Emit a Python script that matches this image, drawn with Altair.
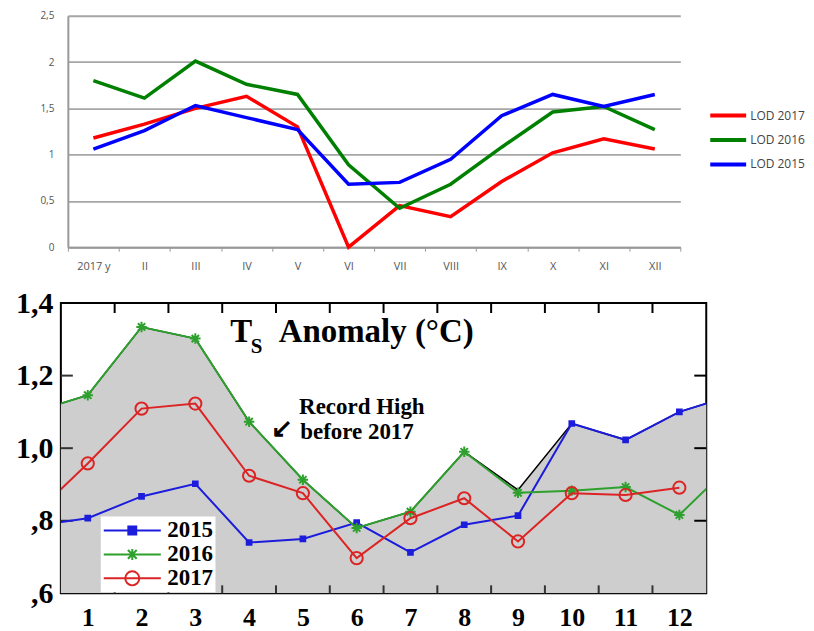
import altair as alt
import pandas as pd

# ---------------- Top chart: LOD ----------------
lod_months = ["2017 y", "II", "III", "IV", "V", "VI", "VII", "VIII", "IX", "X", "XI", "XII"]
lod_2017 = [1.18, 1.33, 1.50, 1.63, 1.30, 0.00, 0.45, 0.33, 0.71, 1.02, 1.17, 1.06]
lod_2016 = [1.80, 1.61, 2.01, 1.76, 1.65, 0.89, 0.42, 0.68, 1.08, 1.46, 1.52, 1.27]
lod_2015 = [1.06, 1.26, 1.53, 1.40, 1.27, 0.68, 0.70, 0.95, 1.42, 1.65, 1.52, 1.65]
lod_series = ["LOD 2017", "LOD 2016", "LOD 2015"]
lod_colors = ["#ff0000", "#008000", "#0000ff"]
lod_ticks = [0, 0.5, 1, 1.5, 2, 2.5]

# ---------------- Bottom chart: Ts anomaly ----------------
ts_x = [0, 1, 2, 3, 4, 5, 6, 7, 8, 9, 10, 11, 12, 13]
ts_2015 = [0.785, 0.807, 0.867, 0.902, 0.740, 0.750, 0.795, 0.713, 0.789, 0.814, 1.068, 1.023, 1.100, 1.146]
ts_2016 = [1.100, 1.146, 1.334, 1.302, 1.073, 0.913, 0.780, 0.825, 0.990, 0.877, 0.883, 0.893, 0.816, 0.960]
ts_2017 = [0.816, 0.958, 1.109, 1.123, 0.924, 0.876, 0.697, 0.807, 0.862, 0.743, 0.876, 0.871, 0.891, None]
ts_record = [1.100, 1.146, 1.334, 1.302, 1.073, 0.913, 0.780, 0.825, 0.990, 0.885, 1.068, 1.023, 1.100, 1.146]
ts_series = ["2015", "2016", "2017"]
ts_colors = ["#1c1cdc", "#2ea02e", "#dc2424"]
ts_month_labels = [1, 2, 3, 4, 5, 6, 7, 8, 9, 10, 11, 12]
ts_yticks = [0.6, 0.8, 1.0, 1.2, 1.4]
ts_inner_xticks = [1.5, 2.5, 3.5, 4.5, 5.5, 6.5, 7.5, 8.5, 9.5, 10.5, 11.5]
ts_inner_yticks = [0.8, 1.0, 1.2]

ann_text = ["T", "S", "Anomaly (°C)", "Record High", "before 2017", "↙"]
ann_m = [3.65, 4.03, 4.55, 4.93, 4.95, 4.40]
ann_v = [1.293, 1.262, 1.293, 1.095, 1.026, 1.030]
ann_size = [33, 21, 33, 23, 23, 26]

# ---------- build tables ----------
rows = []
for name, vals in zip(lod_series, [lod_2017, lod_2016, lod_2015]):
    for m, v in zip(lod_months, vals):
        rows.append({"month": m, "value": v, "series": name})
lod_df = pd.DataFrame(rows)

rows = []
for name, vals in zip(ts_series, [ts_2015, ts_2016, ts_2017]):
    for m, v in zip(ts_x, vals):
        if v is not None:
            rows.append({"m": m, "v": v, "series": name})
ts_df = pd.DataFrame(rows)
rec_df = pd.DataFrame({"m": ts_x, "v": ts_record})
ann_df = pd.DataFrame({"m": ann_m, "v": ann_v, "text": ann_text, "size": ann_size})
tick_x_df = pd.DataFrame({"m": ts_inner_xticks})
tick_y_df = pd.DataFrame({"v": ts_inner_yticks})

# ---------- top chart ----------
top = alt.Chart(lod_df).mark_line(strokeWidth=3.5).encode(
    x=alt.X("lmonth:N", sort=lod_months, bandPosition=0.5,
            scale=alt.Scale(type="band", paddingInner=0, paddingOuter=0, range=[7, 621]),
            axis=alt.Axis(title=None, labelAngle=0, tickBand="extent", tickSize=4,
                          tickColor="#999999", domainColor="#999999", domainWidth=2,
                          labelFont="Open Sans", labelFontSize=11, labelColor="#555555",
                          labelPadding=9, grid=False)),
    y=alt.Y("value:Q", scale=alt.Scale(domain=[0, 2.5], nice=False),
            axis=alt.Axis(title=None, values=lod_ticks, offset=-7,
                          labelExpr="replace(toString(datum.value), '.', ',')",
                          tickSize=0, domainColor="#999999", domainWidth=2,
                          gridColor="#a6a6a6", gridWidth=1.8,
                          labelFont="Open Sans", labelFontSize=10, labelColor="#555555",
                          labelPadding=14)),
    color=alt.Color("series:N", scale=alt.Scale(domain=lod_series, range=lod_colors),
                    legend=alt.Legend(title=None, orient="none", legendX=649, legendY=86,
                                      symbolType="M-1.5,0L1.5,0", symbolSize=576,
                                      symbolStrokeWidth=4, symbolOffset=6, labelOffset=8,
                                      rowPadding=2.5, padding=0,
                                      labelFont="Open Sans", labelFontSize=12,
                                      labelFontWeight="normal", labelColor="#444444")),
).transform_calculate(lmonth="datum.month").properties(
    width=621, height=232, view=alt.ViewBackground(stroke="transparent"))

# ---------- bottom chart ----------
xs = alt.Scale(domain=[0.5, 12.5], nice=False, zero=False)
ys = alt.Scale(domain=[0.6, 1.4], nice=False, zero=False)

y_label_expr = ("datum.value < 1 ? replace(format(datum.value, '.1f'), '0.', ',') "
                ": replace(format(datum.value, '.1f'), '.', ',')")

ax_x_main = alt.Axis(title=None, values=ts_month_labels, tickSize=0, domain=False, grid=False,
                     labelFont="Liberation Serif", labelFontWeight="bold", labelFontSize=26,
                     labelColor="black", labelPadding=11, labelFlush=False, labelOverlap=False)
ax_y_main = alt.Axis(title=None, values=ts_yticks, labelExpr=y_label_expr, tickSize=0,
                     domain=False, grid=False,
                     labelFont="Liberation Serif", labelFontWeight="bold", labelFontSize=30,
                     labelColor="black", labelPadding=8, labelFlush=False, labelOverlap=False)

area = alt.Chart(rec_df).mark_area(color="#cecece", clip=True).encode(
    x=alt.X("m:Q", scale=xs, axis=ax_x_main),
    y=alt.Y("v:Q", scale=ys, axis=ax_y_main),
    y2=alt.datum(0.6),
)
rec_line = alt.Chart(rec_df).mark_line(color="black", strokeWidth=1.5, clip=True).encode(
    x=alt.X("m:Q", scale=xs, axis=None),
    y=alt.Y("v:Q", scale=ys, axis=None),
)

# inward frame ticks (positions from the tick value lists, through the scales)
ticks_top = alt.Chart(tick_x_df).mark_rule(strokeWidth=2, color="black").encode(
    x=alt.X("m:Q", scale=xs, axis=None), y=alt.value(0), y2=alt.value(10))
ticks_bot = alt.Chart(tick_x_df).mark_rule(strokeWidth=2, color="#333333").encode(
    x=alt.X("m:Q", scale=xs, axis=None), y=alt.value(283), y2=alt.value(291))
ticks_left = alt.Chart(tick_y_df).mark_rule(strokeWidth=2, color="#333333").encode(
    y=alt.Y("v:Q", scale=ys, axis=None), x=alt.value(0), x2=alt.value(12))
ticks_right = alt.Chart(tick_y_df).mark_rule(strokeWidth=2, color="black").encode(
    y=alt.Y("v:Q", scale=ys, axis=None), x=alt.value(635), x2=alt.value(647))

star_path = "M-1,0L1,0M0,-1L0,1M-0.7,-0.7L0.7,0.7M-0.7,0.7L0.7,-0.7"
marker_specs = {
    "2015": dict(shape="square", size=45, filled=True, strokeWidth=1),
    "2016": dict(shape=star_path, size=110, filled=False, strokeWidth=2),
    "2017": dict(shape="circle", size=150, filled=False, strokeWidth=2),
}

series_layers = []
for name, color in zip(ts_series, ts_colors):
    base = alt.Chart(ts_df).transform_filter(alt.datum.series == name)
    line = base.mark_line(color=color, strokeWidth=2, clip=True).encode(
        x=alt.X("m:Q", scale=xs, axis=None),
        y=alt.Y("v:Q", scale=ys, axis=None),
    )
    spec = marker_specs[name]
    pts = base.mark_point(color=color, opacity=1, clip=True, **spec).encode(
        x=alt.X("m:Q", scale=xs, axis=None),
        y=alt.Y("v:Q", scale=ys, axis=None),
    )
    series_layers.append(line)
    series_layers.append(pts)

legend_paths = [
    "M-2.6,0L2.6,0M-0.36,-0.36L0.36,-0.36L0.36,0.36L-0.36,0.36ZM-0.18,-0.18L0.18,-0.18L0.18,0.18L-0.18,0.18Z",
    "M-2.6,0L2.6,0M0,-0.5L0,0.5M-0.4,-0.4L0.4,0.4M-0.4,0.4L0.4,-0.4",
    "M-2.6,0L2.6,0M0.64,0A0.64,0.64 0 1,1 -0.64,0A0.64,0.64 0 1,1 0.64,0",
]
leg = alt.Legend(title=None, orient="none", legendX=40, legendY=214, fillColor="white",
                 padding=2, symbolSize=484, symbolStrokeWidth=2, symbolOffset=17.6,
                 labelOffset=23, rowPadding=0, labelFont="Liberation Serif",
                 labelFontWeight="bold", labelFontSize=23, labelColor="black")
legend_layer = alt.Chart(ts_df).transform_filter("false").mark_point(filled=False, opacity=1).encode(
    x=alt.X("m:Q", scale=xs, axis=None),
    y=alt.Y("v:Q", scale=ys, axis=None),
    color=alt.Color("series:N", scale=alt.Scale(domain=ts_series, range=ts_colors), legend=leg),
    shape=alt.Shape("series:N", scale=alt.Scale(domain=ts_series, range=legend_paths), legend=leg),
)

ann = alt.Chart(ann_df).mark_text(align="left", baseline="alphabetic", font="Liberation Serif",
                                   fontWeight="bold", color="black").encode(
    x=alt.X("m:Q", scale=xs, axis=None),
    y=alt.Y("v:Q", scale=ys, axis=None),
    text="text:N",
    size=alt.Size("size:Q", scale=None, legend=None),
)

bottom = alt.layer(area, ticks_top, ticks_bot, ticks_left, ticks_right, rec_line,
                   *series_layers, legend_layer, ann).resolve_axis(
    x="independent", y="independent"
).properties(width=647, height=291,
             view=alt.ViewBackground(stroke="black", strokeWidth=2))

chart = alt.vconcat(top, bottom, spacing=15).resolve_scale(
    color="independent", shape="independent", x="independent", y="independent"
).properties(
    padding={"top": 1, "left": 6, "right": 0, "bottom": 0},
    background="white",
)

chart.save("out.html", embed_options={"renderer": "svg", "actions": False})
